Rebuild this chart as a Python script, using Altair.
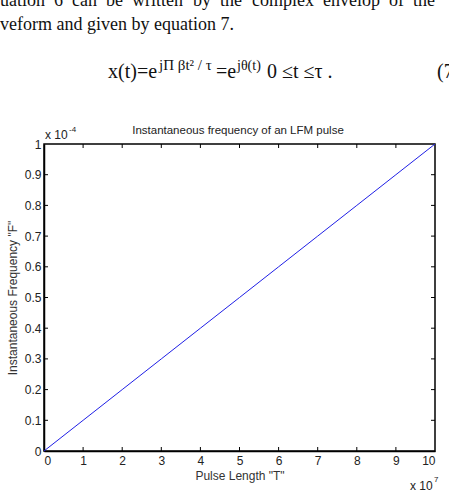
import altair as alt
import pandas as pd

# Data (x in units of 1e7, y in units of 1e-4)
pulse_len = [0, 1, 2, 3, 4, 5, 6, 7, 8, 9, 10]
inst_freq = [0, 0.1, 0.2, 0.3, 0.4, 0.5, 0.6, 0.7, 0.8, 0.9, 1.0]
x_ticks = [1, 2, 3, 4, 5, 6, 7, 8, 9]
y_ticks = [0.1, 0.2, 0.3, 0.4, 0.5, 0.6, 0.7, 0.8, 0.9]
line1_words = ["uation", "6", "can", "be", "written", "by", "the", "complex", "envelop", "of", "the"]
line1_x = [0, 54, 72, 106, 132, 193, 220, 252, 323, 389, 413]

W, H = 391, 307
SANS = "Liberation Sans"
SERIF = "Liberation Serif"

df = pd.DataFrame({"t": pulse_len, "f": inst_freq})
xs = alt.Scale(domain=[0, 10], nice=False, zero=False)
ys = alt.Scale(domain=[0, 1], nice=False, zero=False)

x_axis = alt.Axis(values=pulse_len, format="d",
                  tickSize=0, domainColor="black", domainWidth=1.5,
                  labelFont=SANS, labelFontSize=12, labelColor="#222",
                  labelPadding=4, titleFont=SANS, titleFontSize=12,
                  titleFontWeight="normal", titleColor="#333",
                  titlePadding=4, grid=False)
y_axis = alt.Axis(values=[0] + y_ticks + [1],
                  labelExpr="datum.value == 0 ? '0' : datum.value == 1 ? '1' : format(datum.value, '.1f')",
                  tickSize=0, domainColor="black", domainWidth=1.5,
                  labelFont=SANS, labelFontSize=12, labelColor="#222",
                  labelPadding=3, titleFont=SANS, titleFontSize=12,
                  titleFontWeight="normal", titleColor="#333",
                  titlePadding=5, grid=False)
XT = 'Pulse Length "T"'
YT = 'Instantaneous Frequency "F"'

line = alt.Chart(df).mark_line(color="#1f1fe6", strokeWidth=1).encode(
    x=alt.X("t:Q", scale=xs, axis=x_axis, title=XT),
    y=alt.Y("f:Q", scale=ys, axis=y_axis, title=YT),
)

xt = pd.DataFrame({"v": x_ticks})
yt = pd.DataFrame({"v": y_ticks})
tick_style = dict(color="black", strokeWidth=1)
xb = alt.Chart(xt).mark_rule(**tick_style).encode(
    x=alt.X("v:Q", scale=xs, axis=x_axis, title=XT), y=alt.value(H), y2=alt.value(H - 4))
xtp = alt.Chart(xt).mark_rule(**tick_style).encode(
    x=alt.X("v:Q", scale=xs, axis=x_axis, title=XT), y=alt.value(0), y2=alt.value(4))
yl = alt.Chart(yt).mark_rule(**tick_style).encode(
    y=alt.Y("v:Q", scale=ys, axis=y_axis, title=YT), x=alt.value(0), x2=alt.value(4))
yr = alt.Chart(yt).mark_rule(**tick_style).encode(
    y=alt.Y("v:Q", scale=ys, axis=y_axis, title=YT), x=alt.value(W), x2=alt.value(W - 4))


def txt(s, x, y, size, font=SANS, color="#222", align="left", baseline="alphabetic"):
    kw = dict(text=s, font=font, fontSize=size, color=color, align=align, baseline=baseline)
    return alt.Chart(pd.DataFrame({"a": [0]})).mark_text(**kw).encode(
        x=alt.value(x), y=alt.value(y))


OX, OY = 44, 144  # plot origin on page
INK = "#111"
annots = [
    txt("Instantaneous frequency of an LFM pulse", 238 - OX, 134 - OY, 11.5, align="center"),
    txt("x 10", 45 - OX, 139 - OY, 12),
    txt("-4", 69 - OX, 132 - OY, 8),
    txt("x 10", 410 - OX, 490 - OY, 12),
    txt("7", 434 - OX, 482 - OY, 8),
    # document text above the figure
    txt("veform and given by equation 7.", 0 - OX, 30 - OY, 18, font=SERIF, color=INK),
    txt("x(t)=e", 108 - OX, 78 - OY, 20, font=SERIF, color=INK),
    txt("jΠ βt² / τ", 159 - OX, 70 - OY, 15, font=SERIF, color=INK),
    txt("=e", 216 - OX, 78 - OY, 20, font=SERIF, color=INK),
    txt("jθ(t)", 237 - OX, 70 - OY, 14, font=SERIF, color=INK),
    txt("0 ≤t ≤τ .", 267 - OX, 78 - OY, 20, font=SERIF, color=INK),
    txt("(7", 437 - OX, 78 - OY, 20, font=SERIF, color=INK),
]
for wd, wx in zip(line1_words, line1_x):
    annots.append(txt(wd, wx - OX, 6 - OY, 18, font=SERIF, color=INK))

chart = alt.layer(line, xb, xtp, yl, yr, *annots).properties(
    width=W, height=H,
    autosize=alt.AutoSizeParams(type="none"),
    padding={"left": OX, "top": OY, "right": 449 - OX - W, "bottom": 495 - OY - H},
    background="white",
).configure_view(stroke="black", strokeWidth=1.5)

chart.save("out.html", embed_options={"renderer": "svg", "actions": False})
